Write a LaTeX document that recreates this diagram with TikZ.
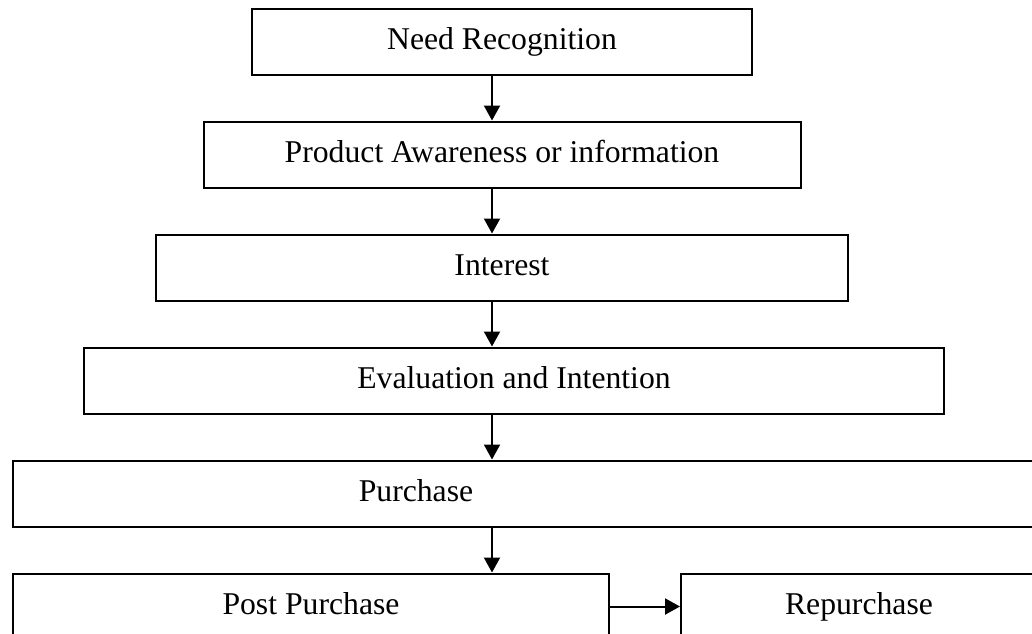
\documentclass[tikz,border=0pt]{standalone}
\usepackage{fontspec}
\setmainfont{Liberation Serif}
\usepackage{tikz}
\usetikzlibrary{positioning, arrows.meta}
\newcommand{\stagefont}{\fontsize{31.7}{38}\selectfont}
\tikzset{
  stage/.style={
    draw=black,
    line width=2pt,
    minimum height=66pt,
    inner sep=0pt,
    text height=22pt,
    text depth=7pt,
    font=\stagefont
  },
  stage text/.style={
    inner sep=0pt,
    text height=22pt,
    text depth=7pt,
    font=\stagefont
  },
  flow/.style={
    -{Triangle[length=15pt,width=16pt]},
    line width=2pt
  }
}

\begin{document}
\begin{tikzpicture}[x=1pt, y=1pt, node distance=45pt]
  \useasboundingbox (0,0) rectangle (1032,-633);
  \clip (0,0) rectangle (1032,-633);

  % Stages
  \node[stage, minimum width=500pt] (need) at (502,-41.5) {Need Recognition};
  \node[stage, minimum width=597pt, below=of need] (aware) {Product Awareness or information};
  \node[stage, minimum width=692pt, below=of aware] (interest) {Interest};
  \node[stage, minimum width=860pt, below=of interest, xshift=12pt] (eval) {Evaluation and Intention};
  \node[stage, minimum width=1026pt, below=of eval, xshift=12pt] (purchase) {};
  \node[stage text] (purchasetext) at ([xshift=-110pt]purchase.center) {Purchase};
  \node[stage, minimum width=596pt, anchor=north west] (post) at ([yshift=-45pt]purchase.south west) {Post Purchase};
  \node[stage, minimum width=356pt, right=70pt of post] (repurchase) {Repurchase};

  % Transitions
  \coordinate (axis) at (492,0);
  \draw[flow] (need.south -| axis) -- (aware.north -| axis);
  \draw[flow] (aware.south -| axis) -- (interest.north -| axis);
  \draw[flow] (interest.south -| axis) -- (eval.north -| axis);
  \draw[flow] (eval.south -| axis) -- (purchase.north -| axis);
  \draw[flow] (purchase.south -| axis) -- (post.north -| axis);
  \draw[flow] (post) -- (repurchase);
\end{tikzpicture}
\end{document}
